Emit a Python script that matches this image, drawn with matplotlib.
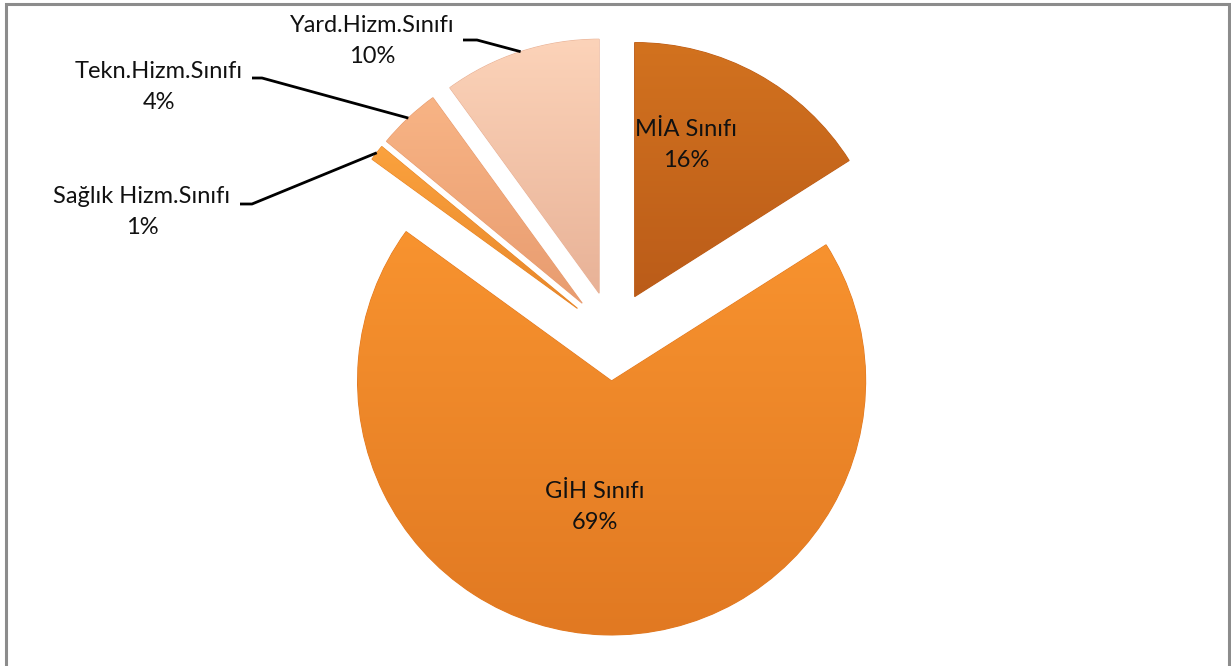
import numpy as np
import matplotlib
matplotlib.use("Agg")
import matplotlib.pyplot as plt
from matplotlib.colors import LinearSegmentedColormap
from matplotlib.patches import Rectangle

plt.rcParams['font.family'] = ['Lato', 'DejaVu Sans']

# data
labels = ['MİA Sınıfı', 'GİH Sınıfı', 'Sağlık Hizm.Sınıfı', 'Tekn.Hizm.Sınıfı', 'Yard.Hizm.Sınıfı']
shares = [16, 69, 1, 4, 10]
top_colors = ['#d2721f', '#f8932f', '#fba23e', '#f8b485', '#fcd3b9']
bottom_colors = ['#bb5c19', '#e17922', '#e8872a', '#e89c70', '#e8b297']

W, H = 1231, 666
CX, CY, R = 613, 336, 254  # pie centre / radius in pixels


def to_data(px, py):
    return (px - CX) / R, (CY - py) / R


fig = plt.figure(figsize=(W / 100, H / 100), dpi=100)
ax = fig.add_axes([0, 0, 1, 1])

wedges, _ = ax.pie(shares, startangle=90, counterclock=False, explode=[0.177] * len(shares),
                   colors=top_colors, wedgeprops=dict(linewidth=0.8))
ax.set_aspect('auto')
ax.axis('off')

# vertical gradient inside each wedge
for w, c1, c2 in zip(wedges, top_colors, bottom_colors):
    w.set_edgecolor(c2)
    cmap = LinearSegmentedColormap.from_list('g', [c2, c1])
    bb = w.get_path().get_extents()
    bb = w.get_transform().transform_bbox(bb).transformed(ax.transData.inverted())
    grad = np.linspace(0, 1, 256).reshape(-1, 1)
    im = ax.imshow(grad, cmap=cmap, origin='lower', aspect='auto',
                   extent=[bb.x0, bb.x1, bb.y0, bb.y1], zorder=w.get_zorder() + 0.1)
    im.set_clip_path(w)
ax.set_xlim(-CX / R, (W - CX) / R)
ax.set_ylim(-(H - CY) / R, CY / R)

fs = 17
ls = 1.62
# inside labels
inside = {0: (686, 145), 1: (595, 507)}
for i, (px, py) in inside.items():
    x, y = to_data(px, py)
    ax.text(x, y, f'{labels[i]}\n{shares[i]}%', ha='center', va='center', fontsize=fs,
            color='#111111', linespacing=ls, zorder=10)

# outside labels with leader lines: label centre, elbow, label edge
outside = {
    2: ((142, 212), (252, 204), (240, 204)),
    3: ((159, 87), (262, 78), (252, 78)),
    4: ((372, 41), (477, 40), (463, 40)),
}
for i, (lab, elbow, edge) in outside.items():
    w = wedges[i]
    mid = np.deg2rad((w.theta1 + w.theta2) / 2)
    cx, cy = w.center
    ex, ey = cx + w.r * np.cos(mid), cy + w.r * np.sin(mid)
    bx, by = to_data(*elbow)
    sx, sy = to_data(*edge)
    ax.plot([ex, bx, sx], [ey, by, sy], color='black', lw=2, zorder=9, solid_capstyle='butt')
    x, y = to_data(*lab)
    ax.text(x, y, f'{labels[i]}\n{shares[i]}%', ha='center', va='center', fontsize=fs,
            color='#111111', linespacing=ls, zorder=10)

# chart area border
fig.patches.append(Rectangle((6 / W, -0.02), (1229 - 6) / W, 1.02 - 4 / H, transform=fig.transFigure,
                             fill=False, edgecolor='#8c8c8c', linewidth=2.2))

fig.savefig('out.png', dpi=100, facecolor='white')
